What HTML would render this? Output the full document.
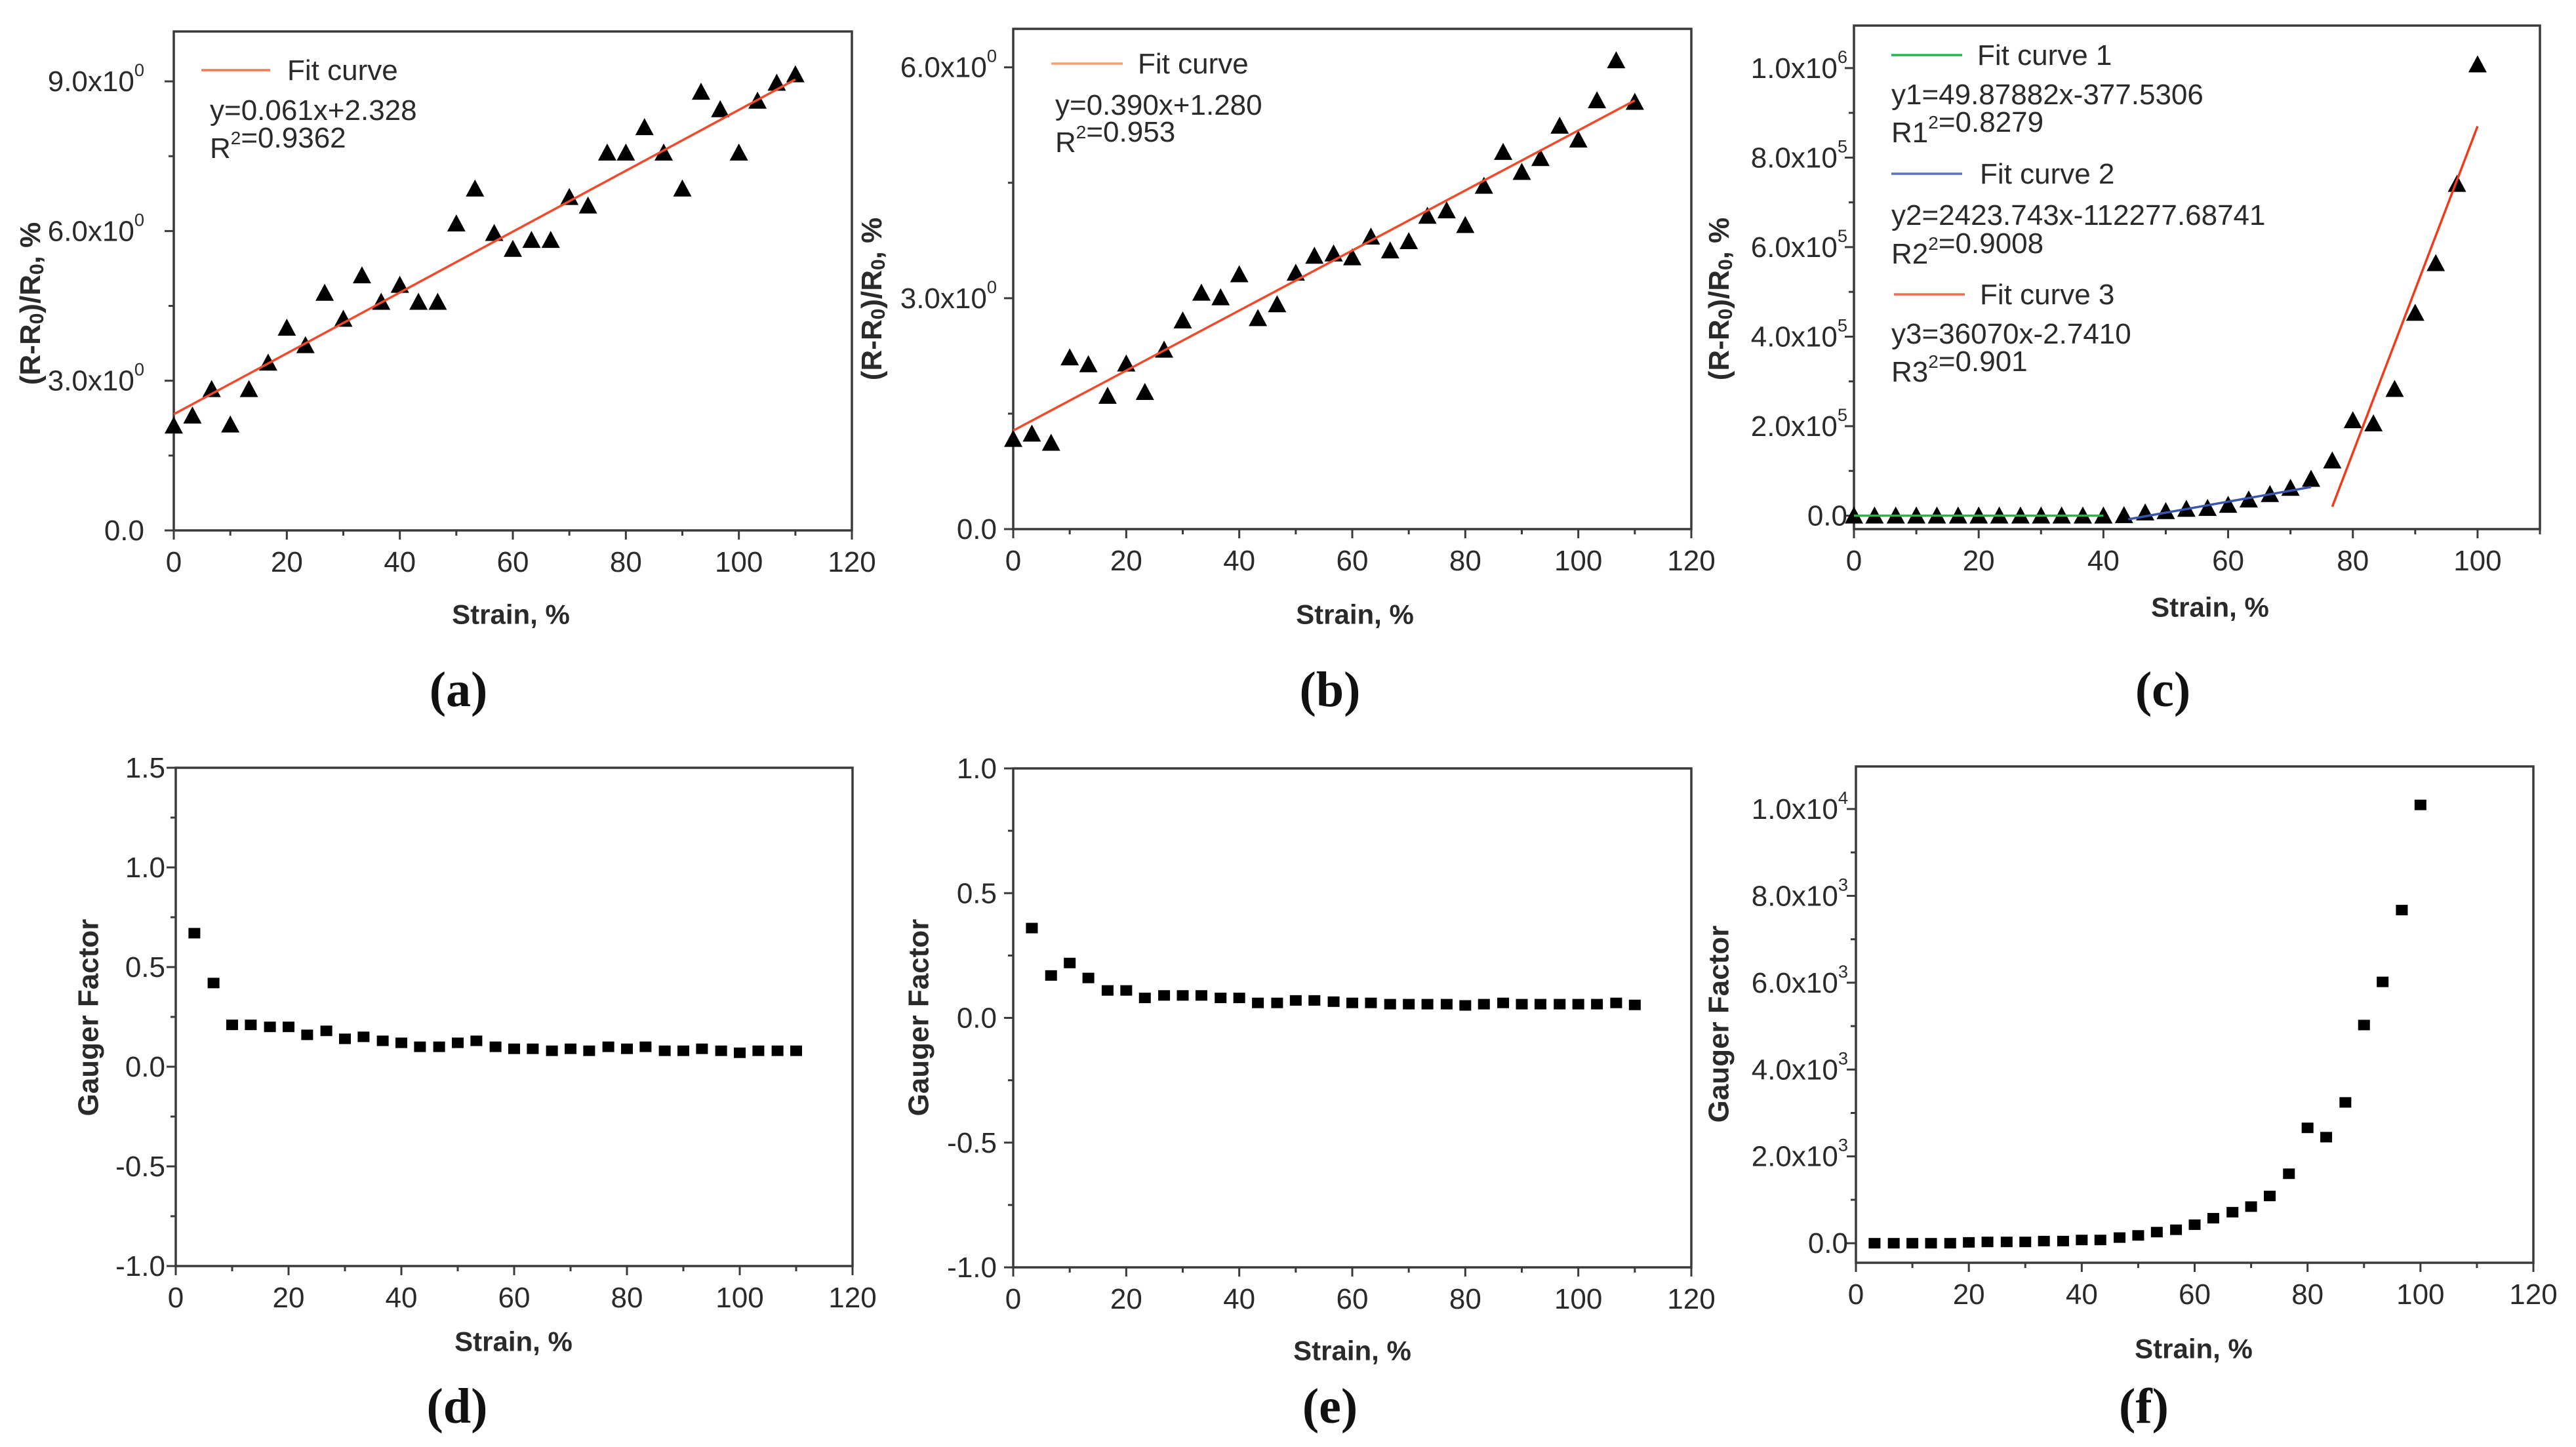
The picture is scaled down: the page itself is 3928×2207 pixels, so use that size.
<!DOCTYPE html>
<html><head><meta charset="utf-8"><style>
html,body{margin:0;padding:0;background:#fff;}
svg{display:block;}
text{font-family:"Liberation Sans",Arial,sans-serif;fill:#2a2a2a;}
.pl{font-family:"Liberation Serif","Times New Roman",serif;font-size:76px;font-weight:bold;fill:#111;}
</style></head><body>
<svg id="fig" width="3928" height="2207" viewBox="0 0 3928 2207" xmlns="http://www.w3.org/2000/svg"></svg>
<script>
// ---- data ----
const strainA = [0,3.3,6.7,10,13.3,16.7,20,23.3,26.7,30,33.3,36.7,40,43.3,46.7,50,53.3,56.7,60,63.3,66.7,70,73.3,76.7,80,83.3,86.7,90,93.3,96.7,100,103.3,106.7,110];
const resA = [2.10,2.30,2.83,2.12,2.83,3.36,4.06,3.71,4.76,4.24,5.11,4.58,4.92,4.58,4.58,6.15,6.85,5.96,5.64,5.82,5.82,6.68,6.51,7.57,7.57,8.08,7.57,6.85,8.79,8.44,7.57,8.61,8.97,9.14];
const fitA = [2.328, 0.061];
const strainB = [0,3.3,6.7,10,13.3,16.7,20,23.3,26.7,30,33.3,36.7,40,43.3,46.7,50,53.3,56.7,60,63.3,66.7,70,73.3,76.7,80,83.3,86.7,90,93.3,96.7,100,103.3,106.7,110];
const resB = [1.17,1.24,1.12,2.23,2.14,1.73,2.15,1.78,2.33,2.71,3.07,3.01,3.31,2.74,2.92,3.33,3.55,3.58,3.53,3.80,3.62,3.74,4.07,4.14,3.95,4.46,4.90,4.64,4.82,5.24,5.06,5.57,6.09,5.55];
const fitB = [1.28, 0.039];
const strainC = [0,3.3,6.7,10,13.3,16.7,20,23.3,26.7,30,33.3,36.7,40,43.3,46.7,50,53.3,56.7,60,63.3,66.7,70,73.3,76.7,80,83.3,86.7,90,93.3,96.7,100];
const resC = [0,0,0,0,0,0,0,0,0,0,0,0,0,1000,7000,10000,15000,17000,24000,36000,48000,62000,82000,123000,213000,206000,283000,453000,564000,741000,1008000];
const fit1X = [0,40], fit1Y = [0,0];
const fit2X = [44,73.3], fit2Y = [-8000,64000];
const fit3X = [76.7,100], fit3Y = [20000,870000];
const strainD = [3.3,6.7,10,13.3,16.7,20,23.3,26.7,30,33.3,36.7,40,43.3,46.7,50,53.3,56.7,60,63.3,66.7,70,73.3,76.7,80,83.3,86.7,90,93.3,96.7,100,103.3,106.7,110];
const gfD = [0.67,0.42,0.21,0.21,0.20,0.20,0.16,0.18,0.14,0.15,0.13,0.12,0.10,0.10,0.12,0.13,0.10,0.09,0.09,0.08,0.09,0.08,0.10,0.09,0.10,0.08,0.08,0.09,0.08,0.07,0.08,0.08,0.08];
const strainE = [3.3,6.7,10,13.3,16.7,20,23.3,26.7,30,33.3,36.7,40,43.3,46.7,50,53.3,56.7,60,63.3,66.7,70,73.3,76.7,80,83.3,86.7,90,93.3,96.7,100,103.3,106.7,110];
const gfE = [0.36,0.17,0.22,0.16,0.11,0.11,0.08,0.09,0.09,0.09,0.08,0.08,0.06,0.06,0.07,0.07,0.065,0.06,0.06,0.055,0.055,0.055,0.055,0.05,0.055,0.06,0.055,0.055,0.055,0.055,0.055,0.06,0.052];
const strainF = [3.3,6.7,10,13.3,16.7,20,23.3,26.7,30,33.3,36.7,40,43.3,46.7,50,53.3,56.7,60,63.3,66.7,70,73.3,76.7,80,83.3,86.7,90,93.3,96.7,100];
const gfF = [0,0,0,0,0,20,30,30,30,50,50,75,75,130,180,256,310,427,576,715,843,1088,1600,2657,2443,3243,5025,6018,7672,10094];
const xTicks = [0,20,40,60,80,100,120];

const NS = "http://www.w3.org/2000/svg";
const svg = document.getElementById('fig');
function mk(tag, attrs, parent){
  const e = document.createElementNS(NS, tag);
  for (const k in attrs) e.setAttribute(k, attrs[k]);
  (parent||svg).appendChild(e);
  return e;
}
function labelText(parent, x, y, base, exp, anchor, size){
  const t = mk('text', {x:x, y:y, 'text-anchor':anchor, 'dominant-baseline':'central', 'font-size':size}, parent);
  const s1 = mk('tspan', {}, t); s1.textContent = base;
  if (exp !== null && exp !== undefined){
    const s2 = mk('tspan', {dy:-18, 'font-size':size*0.62}, t); s2.textContent = exp;
  }
  return t;
}

function panel(cfg){
  const g = mk('g', {});
  
  
  const L=cfg.box[0], T=cfg.box[1], R=cfg.box[2], B=cfg.box[3];
  const sx = v => L + (v - cfg.xd[0])/(cfg.xd[1]-cfg.xd[0])*(R-L);
  const sy = v => B - (v - cfg.yd[0])/(cfg.yd[1]-cfg.yd[0])*(B-T);
  cfg.sx = sx; cfg.sy = sy;
  const frame = mk('rect', {x:L, y:T, width:R-L, height:B-T, fill:'none', stroke:'#3a3a3a', 'stroke-width':3.5}, g);
  
  
  for (let v=cfg.xd[0]; v<=cfg.xd[1]+0.01; v+=10){
    const major = Math.abs(v%20)<0.01;
    mk('line', {x1:sx(v), x2:sx(v), y1:B, y2:B+(major?14:8), stroke:'#3a3a3a','stroke-width':3}, g);
  }
  xTicks.forEach(v=>{
    if (v > cfg.xd[1]+0.01) return;
    const t = labelText(g, sx(v), B+48, String(v), null, 'middle', 44);
    
    
  });
  cfg.yMinor.forEach(v=>{ mk('line', {x1:L-8, x2:L, y1:sy(v), y2:sy(v), stroke:'#3a3a3a','stroke-width':3}, g); });
  cfg.yLabels.forEach((lab,i)=>{
    const v = cfg.yMajor[i];
    mk('line', {x1:L-14, x2:L, y1:sy(v), y2:sy(v), stroke:'#3a3a3a','stroke-width':3}, g);
    const t = labelText(g, L-cfg.gap, sy(v), lab[0], lab[1], 'end', 44);
    
    
  });
  const xt = mk('text', {x:cfg.xt[0], y:cfg.xt[1], 'text-anchor':'middle','dominant-baseline':'central','font-size':42,'font-weight':'bold'}, g);
  xt.textContent = 'Strain, %';
  
  
  const yt = mk('text', {x:0, y:0, 'text-anchor':'middle','dominant-baseline':'central','font-size':44,'font-weight':'bold', transform:`translate(${cfg.yt[0]},${cfg.yt[1]}) rotate(-90)`}, g);
  
  
  if (cfg.ytitle === 'R'){
    const parts = [['(R-R',0],['0',1],[')/R',0],['0',1],[', %',0]];
    parts.forEach(p=>{
      const s = mk('tspan', p[1]?{dy:10,'font-size':30}:{dy:p===parts[0]?0:-10}, yt);
      s.textContent = p[0];
    });
  } else yt.textContent = 'Gauger Factor';
  const pl = mk('text', {x:cfg.pl[0], y:cfg.pl[1], 'text-anchor':'middle','dominant-baseline':'central', class:'pl'}, g);
  pl.textContent = cfg.letter;
  
  
  cfg.g = g;
  return cfg;
}
function triangles(cfg, xs, ys){
  xs.forEach((x,i)=>{
    const cx = cfg.sx(x), cy = cfg.sy(ys[i]);
    const p = mk('polygon', {points:`${cx-14},${cy+12} ${cx+14},${cy+12} ${cx},${cy-14}`, fill:'#000'}, cfg.g);
    
    
  });
}
function squares(cfg, xs, ys){
  xs.forEach((x,i)=>{
    const cx = cfg.sx(x), cy = cfg.sy(ys[i]);
    const p = mk('rect', {x:cx-9, y:cy-8, width:18, height:16, fill:'#000'}, cfg.g);
    
    
  });
}
function segment(cfg, xs, ys, color, name){
  const l = mk('line', {x1:cfg.sx(xs[0]), y1:cfg.sy(ys[0]), x2:cfg.sx(xs[1]), y2:cfg.sy(ys[1]), stroke:color, 'stroke-width':3.5}, cfg.g);
  
  
}
function txt(cfg, x, y, parts, name){
  const t = mk('text', {x:x, y:y, 'dominant-baseline':'central', 'font-size':44}, cfg.g);
  parts.forEach(p=>{
    const s = mk('tspan', p[1]?{dy:-16,'font-size':28}:{dy:0}, t);
    s.textContent = p[0];
    if (p[1]) { const r = mk('tspan', {dy:16,'font-size':44}, t); r.textContent=''; }
  });
  
  
}

// ---- panel a ----
const pa = panel({name:'panel-a', letter:'(a)', box:[265,48,1299,809], xd:[0,120], yd:[0,10],
  yMajor:[0,3,6,9], yLabels:[['0.0',null],['3.0x10','0'],['6.0x10','0'],['9.0x10','0']], yMinor:[1.5,4.5,7.5],
  gap:45, xt:[779,937], yt:[46,463], ytitle:'R', pl:[699,1052]});
triangles(pa, strainA, resA);
segment(pa, [0,110], [fitA[0], fitA[0]+fitA[1]*110], '#f04a2a', 'fit-line');
mk('line',{x1:307,x2:412,y1:107,y2:107,stroke:'#f07a50','stroke-width':3.5},pa.g);
txt(pa, 438, 107, [['Fit curve',0]], 'legend-entry');
txt(pa, 320, 168, [['y=0.061x+2.328',0]], 'fit-equation');
txt(pa, 320, 226, [['R',0],['2',1],['=0.9362',0]], 'r-squared');

// ---- panel b ----
const pb = panel({name:'panel-b', letter:'(b)', box:[1545,44,2579,807], xd:[0,120], yd:[0,6.5],
  yMajor:[0,3,6], yLabels:[['0.0',null],['3.0x10','0'],['6.0x10','0']], yMinor:[1.5,4.5],
  gap:25, xt:[2066,937], yt:[1329,456], ytitle:'R', pl:[2028,1052]});
triangles(pb, strainB, resB);
segment(pb, [0,110], [fitB[0], fitB[0]+fitB[1]*110], '#f04a2a', 'fit-line');
mk('line',{x1:1603,x2:1712,y1:97,y2:97,stroke:'#f7a070','stroke-width':3.5},pb.g);
txt(pb, 1735, 97, [['Fit curve',0]], 'legend-entry');
txt(pb, 1609, 160, [['y=0.390x+1.280',0]], 'fit-equation');
txt(pb, 1609, 217, [['R',0],['2',1],['=0.953',0]], 'r-squared');

// ---- panel c ----
const pc = panel({name:'panel-c', letter:'(c)', box:[2827,39,3873,807], xd:[0,110], yd:[-30000,1095000],
  yMajor:[0,200000,400000,600000,800000,1000000], yLabels:[['0.0',null],['2.0x10','5'],['4.0x10','5'],['6.0x10','5'],['8.0x10','5'],['1.0x10','6']],
  yMinor:[100000,300000,500000,700000,900000], gap:10, xt:[3370,926], yt:[2621,456], ytitle:'R', pl:[3298,1052]});
triangles(pc, strainC, resC);
segment(pc, fit1X, fit1Y, '#1fb84a', 'fit-curve-1');
segment(pc, fit2X, fit2Y, '#3a55b0', 'fit-curve-2');
segment(pc, fit3X, fit3Y, '#f03a1a', 'fit-curve-3');
mk('line',{x1:2884,x2:2992,y1:84,y2:84,stroke:'#1fb84a','stroke-width':3.5},pc.g);
txt(pc, 3015, 84, [['Fit curve 1',0]], 'legend-entry-1');
txt(pc, 2884, 144, [['y1=49.87882x-377.5306',0]], 'fit-equation-1');
txt(pc, 2884, 202, [['R1',0],['2',1],['=0.8279',0]], 'r-squared-1');
mk('line',{x1:2884,x2:2992,y1:265,y2:265,stroke:'#5a70c0','stroke-width':3.5},pc.g);
txt(pc, 3019, 265, [['Fit curve 2',0]], 'legend-entry-2');
txt(pc, 2884, 328, [['y2=2423.743x-112277.68741',0]], 'fit-equation-2');
txt(pc, 2884, 387, [['R2',0],['2',1],['=0.9008',0]], 'r-squared-2');
mk('line',{x1:2888,x2:2996,y1:449,y2:449,stroke:'#f06a50','stroke-width':3.5},pc.g);
txt(pc, 3019, 449, [['Fit curve 3',0]], 'legend-entry-3');
txt(pc, 2884, 509, [['y3=36070x-2.7410',0]], 'fit-equation-3');
txt(pc, 2884, 567, [['R3',0],['2',1],['=0.901',0]], 'r-squared-3');

// ---- panel d ----
const pd = panel({name:'panel-d', letter:'(d)', box:[268,1171,1300,1931], xd:[0,120], yd:[-1,1.5],
  yMajor:[-1,-0.5,0,0.5,1,1.5], yLabels:[['-1.0',null],['-0.5',null],['0.0',null],['0.5',null],['1.0',null],['1.5',null]],
  yMinor:[-0.75,-0.25,0.25,0.75,1.25], gap:16, xt:[783,2046], yt:[135,1552], ytitle:'G', pl:[697,2145]});
squares(pd, strainD, gfD);

// ---- panel e ----
const pe = panel({name:'panel-e', letter:'(e)', box:[1545,1172,2579,1933], xd:[0,120], yd:[-1,1],
  yMajor:[-1,-0.5,0,0.5,1], yLabels:[['-1.0',null],['-0.5',null],['0.0',null],['0.5',null],['1.0',null]],
  yMinor:[-0.75,-0.25,0.25,0.75], gap:25, xt:[2062,2060], yt:[1401,1552], ytitle:'G', pl:[2028,2145]});
squares(pe, strainE, gfE);

// ---- panel f ----
const pf = panel({name:'panel-f', letter:'(f)', box:[2830,1169,3863,1926], xd:[0,120], yd:[-450,10980],
  yMajor:[0,2000,4000,6000,8000,10000], yLabels:[['0.0',null],['2.0x10','3'],['4.0x10','3'],['6.0x10','3'],['8.0x10','3'],['1.0x10','4']],
  yMinor:[1000,3000,5000,7000,9000], gap:12, xt:[3345,2057], yt:[2621,1562], ytitle:'G', pl:[3269,2145]});
squares(pf, strainF, gfF);
</script>
</body></html>
